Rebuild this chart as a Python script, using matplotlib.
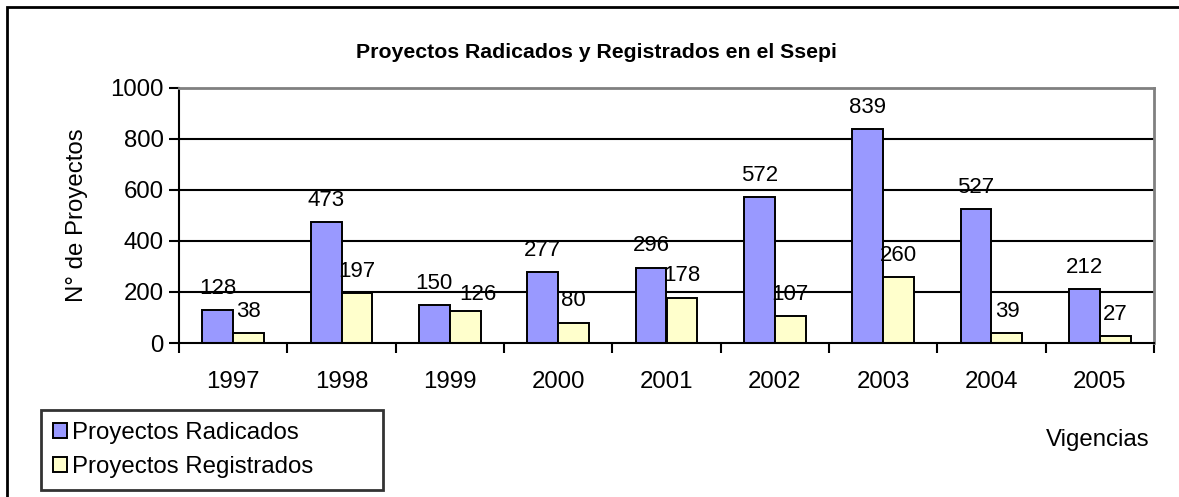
import matplotlib.pyplot as plt
import numpy as np
from matplotlib.patches import Rectangle, Patch

plt.rcParams['font.family'] = ['Liberation Sans', 'DejaVu Sans']

years = ['1997', '1998', '1999', '2000', '2001', '2002', '2003', '2004', '2005']
radicados = [128, 473, 150, 277, 296, 572, 839, 527, 212]
registrados = [38, 197, 126, 80, 178, 107, 260, 39, 27]

blue = '#9999FF'
yellow = '#FFFFCC'

fig = plt.figure(figsize=(11.79, 4.97), dpi=100)
ax = fig.add_axes([179/1179, 1 - 343/497, 975/1179, 255/497])

x = np.arange(len(years))
w = 0.286
ax.bar(x - w/2, radicados, w, color=blue, edgecolor='black', linewidth=1.4, zorder=3)
ax.bar(x + w/2, registrados, w, color=yellow, edgecolor='black', linewidth=1.4, zorder=3)

# value labels above bars (the 1999 yellow one is pushed aside like in Excel)
for i in range(len(years)):
    ax.annotate(str(radicados[i]), (x[i] - w/2, radicados[i]), xytext=(0, 8),
                textcoords='offset points', ha='center', va='bottom', fontsize=16, zorder=4)
    off = (9, 4) if i == 2 else (0, 8)
    ax.annotate(str(registrados[i]), (x[i] + w/2, registrados[i]), xytext=off,
                textcoords='offset points', ha='center', va='bottom', fontsize=16, zorder=4)

ax.set_xlim(-0.5, len(years) - 0.5)
ax.set_ylim(0, 1000)
ax.set_yticks(range(0, 1001, 200))
ax.set_xticks(x)
ax.set_xticklabels(years)
ax.set_xticks(np.arange(-0.5, len(years), 1), minor=True)
ax.tick_params(axis='x', which='major', length=0, pad=20, labelsize=17.3)
ax.tick_params(axis='x', which='minor', length=7, width=1.5, direction='out')
ax.tick_params(axis='y', length=7, width=1.5, direction='out', labelsize=17.3, pad=4)

for yv in range(200, 1000, 200):
    ax.axhline(yv, color='black', linewidth=1.5, zorder=1)

ax.spines['left'].set_linewidth(1.5)
ax.spines['bottom'].set_linewidth(1.5)
ax.spines['bottom'].set_zorder(5)
ax.spines['top'].set_color('#808080')
ax.spines['right'].set_color('#808080')
ax.spines['top'].set_linewidth(2)
ax.spines['right'].set_linewidth(2)

ax.set_ylabel('N° de Proyectos', fontsize=17.3, labelpad=16)
fig.text(596/1179, 1 - 52/497, 'Proyectos Radicados y Registrados en el Ssepi',
         ha='center', va='center', fontsize=15.3, fontweight='bold')
fig.text(1098/1179, 1 - 440/497, 'Vigencias', ha='center', va='center', fontsize=17.3)

handles = [Patch(facecolor=blue, edgecolor='black', linewidth=1.4),
           Patch(facecolor=yellow, edgecolor='black', linewidth=1.4)]
leg = fig.legend(handles, ['Proyectos Radicados', 'Proyectos Registrados'],
                 loc='lower left', bbox_to_anchor=(41/1179, 1 - 490/497, 342/1179, 81/497),
                 mode='expand', fontsize=17.3, frameon=True, fancybox=False,
                 handlelength=0.6, handleheight=0.6, handletextpad=0.2,
                 borderpad=0.5, labelspacing=0.5, borderaxespad=0)
leg.get_frame().set_edgecolor('black')
leg.get_frame().set_linewidth(2)

# outer chart border (cut at right and bottom)
fig.patches.append(Rectangle((7/1179, -0.1), 1.2, 1 - 7/497 + 0.1, transform=fig.transFigure,
                             fill=False, edgecolor='black', linewidth=2))

fig.savefig('out.png', dpi=100)
